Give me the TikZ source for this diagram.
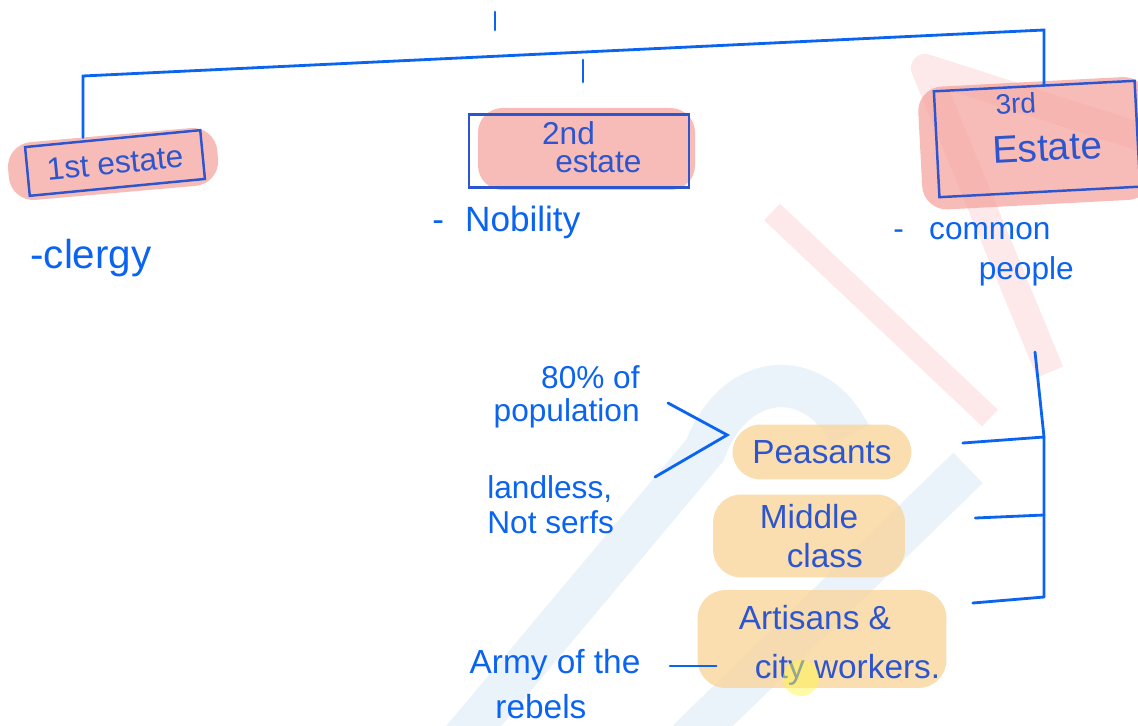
\documentclass[tikz,border=0pt]{standalone}
\usepackage{fontspec}
\setmainfont{Liberation Sans}
\usetikzlibrary{calc}

\definecolor{inkBlue}{RGB}{10,100,240}
\definecolor{boxBlue}{RGB}{45,85,205}
\definecolor{markPink}{RGB}{245,160,155}
\definecolor{markOrange}{RGB}{250,212,150}
\definecolor{wmPink}{RGB}{253,232,234}
\definecolor{wmBlue}{RGB}{234,242,250}

\begin{document}
\begin{tikzpicture}
[x=0.02cm, y=-0.02cm,
  lineDecorate/.style={-,draw=inkBlue,line width=1.6pt,line cap=round},%
  boxDecorate/.style={shape=rectangle,draw=boxBlue,line width=1.4pt,text=boxBlue,inner sep=0pt,align=center,font=\fontsize{18}{21}\selectfont},%
  textDecorate/.style={text=inkBlue,inner sep=0pt,font=\fontsize{19}{22}\selectfont},%
  pinkMark/.style={fill=markPink,fill opacity=0.7,rounded corners=14pt},%
  groupDecorate/.style={shape=rectangle,rounded corners=16pt,fill=markOrange,fill opacity=0.75,text opacity=1,text=boxBlue,inner sep=0pt,align=center,font=\fontsize{19}{25}\selectfont}]
\useasboundingbox[fill=white] (0,0) rectangle (1138,726);
%% watermark
\draw[wmPink,line width=13pt] (772,212) -- (990,418);
\draw[wmPink,line width=16pt,line join=round] (1050,372) -- (925,68) -- (1150,140);
\draw[wmBlue,line width=24pt] (462,740) -- (705,450) .. controls (735,370) and (815,365) .. (850,435);
\draw[wmBlue,line width=24pt] (968,468) -- (688,740);
%% highlights
\fill[pinkMark,rotate around={5:(113,163)}] (8,135) rectangle (218,193);
\fill[pinkMark] (478,108) rectangle (695,190);
\fill[pinkMark,rotate around={3:(1030,142)}] (920,82) rectangle (1150,205);
%% estates
\node[boxDecorate,minimum width=3.52cm,minimum height=0.98cm,rotate=5.5] (est1) at (115,163) {1st estate};
\node[boxDecorate,minimum width=4.4cm,minimum height=1.46cm] (est2) at (579,151)
  {\hspace*{-12pt}2nd\\[-4.5pt]\hspace*{22pt}estate\rule[-4.5pt]{0pt}{4.5pt}};
\node[boxDecorate,minimum width=4.02cm,minimum height=2.12cm,rotate=3] (est3) at (1037,139)
  {\hspace*{-22pt}{\fontsize{16}{18}\selectfont 3rd}\\[7pt]\hspace*{11pt}{\fontsize{22}{24}\selectfont Estate}\rule[-14pt]{0pt}{14pt}};
%% who they are
\node[textDecorate,anchor=west,font=\fontsize{23}{26}\selectfont] (clergy) at (30,258) {-clergy};
\node[textDecorate,anchor=west,font=\fontsize{20}{24}\selectfont] (nobility) at (432,222) {-\hspace{0.6em}Nobility};
\node[textDecorate,anchor=north west,align=left,font=\fontsize{18}{23}\selectfont] (common) at (893,222) {-\hspace{0.8em}common\\\hspace*{2.7em}people};
%% groups of the 3rd estate
\node[groupDecorate,minimum width=3.58cm,minimum height=1.1cm] (peas) at (822,452) {Peasants};
\node[groupDecorate,minimum width=3.84cm,minimum height=1.66cm,font=\fontsize{19}{22}\selectfont] (mid) at (809,536) {Middle\\\hspace*{18pt}class};
\node[groupDecorate,minimum width=4.98cm,minimum height=1.96cm,font=\fontsize{19}{28}\selectfont] (art) at (822,639)
  {\hspace*{-8pt}\rule{0pt}{21pt}Artisans \&\\\hspace*{29pt}city workers.};
\fill[yellow!70,opacity=0.5] (801,678) circle (0.36cm);
%% notes
\node[textDecorate,align=right,anchor=east,font=\fontsize{18}{19}\selectfont] (pop) at (640,397) {80\% of\\population};
\node[textDecorate,align=left,anchor=west,font=\fontsize{18}{20}\selectfont] (land) at (487,505) {landless,\\Not serfs};
\node[textDecorate,align=center,font=\fontsize{19}{26}\selectfont] (army) at (555,684) {Army of the\\\hspace*{-16pt}rebels};
%% edges or lines
\coordinate (barL) at (83,76);
\coordinate (barR) at (1044,30);
\draw[lineDecorate] (barL |- est1.north) -- (barL) -- (barR) -- (barR |- est3.north);
\foreach \x/\ya/\yb in {495/12/30, 583/60/82}
{
  \draw[lineDecorate] (\x,\ya) -- (\x,\yb);
}
\coordinate (spineTop) at (1035,352);
\coordinate (j1) at (1044,437);
\coordinate (j2) at (1044,515);
\coordinate (j3) at (1044,597);
\draw[lineDecorate] (spineTop) -- (j1) -- (j3);
\foreach \j/\n/\dx/\dy in {j1/peas/51/-9, j2/mid/70/-18, j3/art/26/-36}
{
  \draw[lineDecorate] (\j) -- ($(\n.east)+(\dx,\dy)$);
}
\coordinate (apex) at ($(peas.west)+(-5,-17)$);
\coordinate (popEnd) at (668,403);
\coordinate (landEnd) at (655,477);
\draw[lineDecorate] (popEnd) -- (apex) -- (landEnd);
\coordinate (armyEnd) at (670,666);
\draw[lineDecorate] (armyEnd) -- ($(art.west)+(19,27)$);
\end{tikzpicture}
\end{document}
